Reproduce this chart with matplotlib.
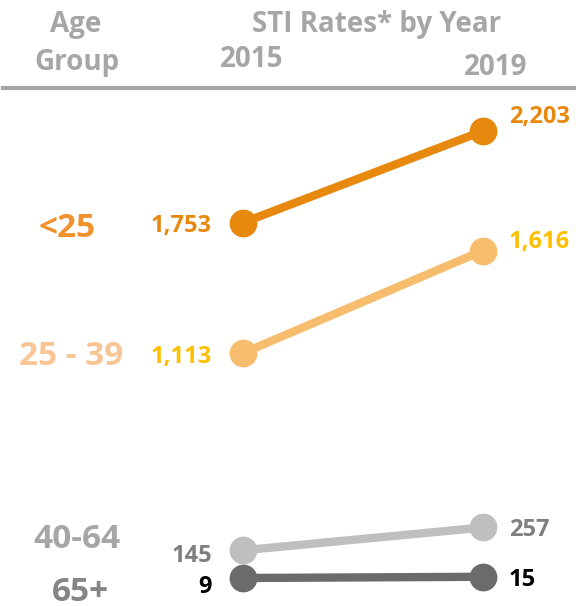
import numpy as np
import matplotlib
matplotlib.use("Agg")
import matplotlib.pyplot as plt
from matplotlib.lines import Line2D

plt.rcParams['font.family'] = ['Open Sans', 'DejaVu Sans']
plt.rcParams['font.weight'] = 'bold'

# STI rates per age group, 2015 vs 2019
years = [2015, 2019]
groups = ['<25', '25 - 39', '40-64', '65+']
rate_2015 = [1753, 1113, 145, 9]
rate_2019 = [2203, 1616, 257, 15]

line_colors = ['#E8890F', '#F6BD6E', '#BFBFBF', '#6B6B6B']
group_colors = ['#F0922C', '#F9C594', '#A6A6A6', '#858585']
value_colors = ['#E8890F', '#FFC000', '#7F7F7F', '#000000']

# pixel nudges for the labels (baseline relative to the marker centre)
group_x = [67, 71, 77, 80]
group_dy = [-14, -12, 2, -23]
left_dy = [-9, -10, -12, -15]
right_dy = [8, 3, -9, -9]

W, H = 576, 606
fig = plt.figure(figsize=(W / 100, H / 100), dpi=100)
ax = fig.add_axes([0, 0, 1, 1])
ax.set_xlim(2015 - 243 / 60, 2019 + (W - 483) / 60)
px_per_unit = (578 - 131) / (2203 - 9)
ax.set_ylim(9 - (H - 578) / px_per_unit, 2203 + 131 / px_per_unit)
ax.axis('off')

for i, g in enumerate(groups):
    ax.plot(years, [rate_2015[i], rate_2019[i]], color=line_colors[i],
            lw=6, marker='o', ms=19, solid_capstyle='butt', zorder=3)
    ax.annotate(f'{rate_2015[i]:,}', (2015, rate_2015[i]),
                xytext=(-31, left_dy[i]), textcoords='offset pixels',
                ha='right', va='baseline', fontsize=17, color=value_colors[i])
    ax.annotate(f'{rate_2019[i]:,}', (2019, rate_2019[i]),
                xytext=(26, right_dy[i]), textcoords='offset pixels',
                ha='left', va='baseline', fontsize=17, color=value_colors[i])
    ax.annotate(g, (group_x[i] / W, rate_2015[i]), xycoords=('axes fraction', 'data'),
                xytext=(0, group_dy[i]), textcoords='offset pixels',
                ha='center', va='baseline', fontsize=24, color=group_colors[i])

# header
hdr = '#A6A6A6'
def header(x, y, s):
    fig.text(x / W, 1 - y / H, s, ha='center', va='baseline', fontsize=20, color=hdr)

header(76, 32, 'Age')
header(77, 70, 'Group')
header(377, 32, 'STI Rates* by Year')
header(252, 67, '2015')
header(496, 75, '2019')
fig.add_artist(Line2D([3 / W, 1], [1 - 88 / H, 1 - 88 / H], color=hdr, lw=3,
                      transform=fig.transFigure))

fig.savefig('out.png', dpi=100)
